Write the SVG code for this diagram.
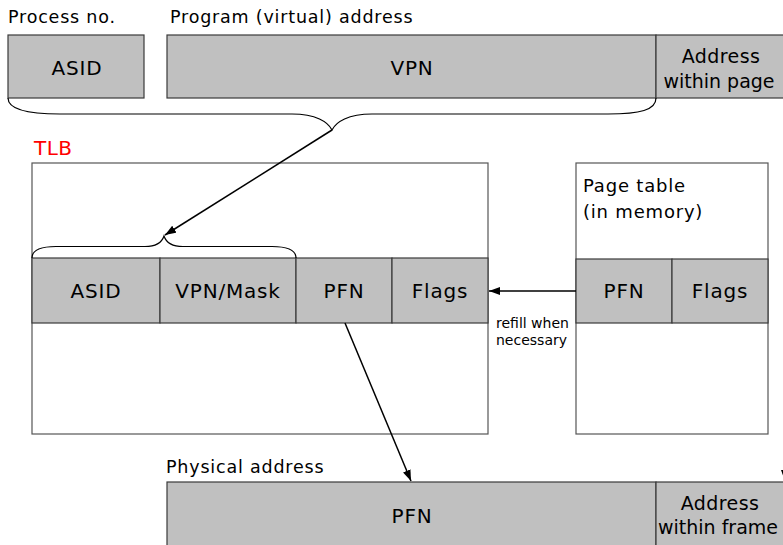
<svg xmlns="http://www.w3.org/2000/svg" width="783" height="545" viewBox="0 0 783 545">
<style>
  text { font-family: "DejaVu Sans", "Liberation Sans", sans-serif; fill: #000; }
  .cell { fill: #c0c0c0; stroke: #3a3a3a; stroke-width: 1.2; }
  .frame { fill: #fff; stroke: #555; stroke-width: 1.2; }
  .t20 { font-size: 20px; letter-spacing: 0.8px; text-anchor: middle; }
  .lbl { font-size: 17.5px; letter-spacing: 0.8px; }
  .small { font-size: 14px; }
  .red { fill: #ff0000; font-size: 20px; letter-spacing: 0.5px; }
  .brace { fill: none; stroke: #000; stroke-width: 1.2; }
  .conn { fill: none; stroke: #000; stroke-width: 1.5; }
</style>
<defs>
  <marker id="ah" markerUnits="userSpaceOnUse" markerWidth="12" markerHeight="10" refX="11" refY="4" orient="auto">
    <path d="M0,0 L11,4 L0,8 Z" fill="#000"/>
  </marker>
</defs>
<rect width="783" height="545" fill="#fff"/>

<g id="virtual-address">
  <text class="lbl" x="8" y="23">Process no.</text>
  <text class="lbl" x="170" y="23">Program (virtual) address</text>
  <rect class="cell" x="8" y="35" width="136" height="63"/>
  <text class="t20" x="77" y="75">ASID</text>
  <rect class="cell" x="167" y="35" width="489" height="63"/>
  <text class="t20" x="412" y="75">VPN</text>
  <rect class="cell" x="656" y="35" width="140" height="63"/>
  <text class="t20" x="721" y="63" style="font-size:19px;letter-spacing:0.4px">Address</text>
  <text class="t20" x="719" y="88" style="font-size:19px;letter-spacing:0px">within page</text>
  <path class="brace" d="M8,98 C8,110 30,114 60,114 L292,114 C316,114 328,122 332,130 C336,122 348,114 372,114 L608,114 C640,114 656,110 656,98"/>
</g>

<g id="tlb">
  <text class="red" x="34" y="155">TLB</text>
  <rect class="frame" x="32" y="163" width="456" height="271"/>
  <rect class="cell" x="32" y="258" width="128" height="65"/>
  <rect class="cell" x="160" y="258" width="136" height="65"/>
  <rect class="cell" x="296" y="258" width="96" height="65"/>
  <rect class="cell" x="392" y="258" width="96" height="65"/>
  <text class="t20" x="96" y="298">ASID</text>
  <text class="t20" x="228" y="298">VPN/Mask</text>
  <text class="t20" x="344" y="298">PFN</text>
  <text class="t20" x="440" y="298">Flags</text>
  <path class="brace" d="M32,258 C32,250 40,246.5 56,246.5 L145,246.5 C156,246.5 162,242 164,236 C166,242 172,246.5 183,246.5 L272,246.5 C288,246.5 296,250 296,258"/>
</g>

<g id="page-table">
  <rect class="frame" x="576" y="163" width="192" height="271"/>
  <text class="lbl" x="583" y="192" style="font-size:18px">Page table</text>
  <text class="lbl" x="583" y="218" style="font-size:18px">(in memory)</text>
  <rect class="cell" x="576" y="259" width="96" height="64"/>
  <rect class="cell" x="672" y="259" width="96" height="64"/>
  <text class="t20" x="624" y="298">PFN</text>
  <text class="t20" x="720" y="298">Flags</text>
</g>

<g id="physical-address">
  <text class="lbl" x="166" y="473">Physical address</text>
  <rect class="cell" x="167" y="482" width="489" height="80"/>
  <text class="t20" x="412" y="523">PFN</text>
  <rect class="cell" x="656" y="482" width="140" height="80"/>
  <text class="t20" x="720" y="510" style="font-size:19px;letter-spacing:0.4px">Address</text>
  <text class="t20" x="718" y="534" style="font-size:19px;letter-spacing:0px">within frame</text>
</g>

<g id="connectors">
  <line class="conn" x1="332" y1="130" x2="165" y2="235" marker-end="url(#ah)"/>
  <line class="conn" x1="576" y1="291" x2="489" y2="291" marker-end="url(#ah)"/>
  <line class="conn" x1="345" y1="323" x2="411" y2="481" marker-end="url(#ah)"/>
  <line class="conn" x1="785" y1="98" x2="785" y2="481" marker-end="url(#ah)"/>
  <text class="small" x="496" y="328">refill when</text>
  <text class="small" x="496" y="345">necessary</text>
</g>
</svg>
